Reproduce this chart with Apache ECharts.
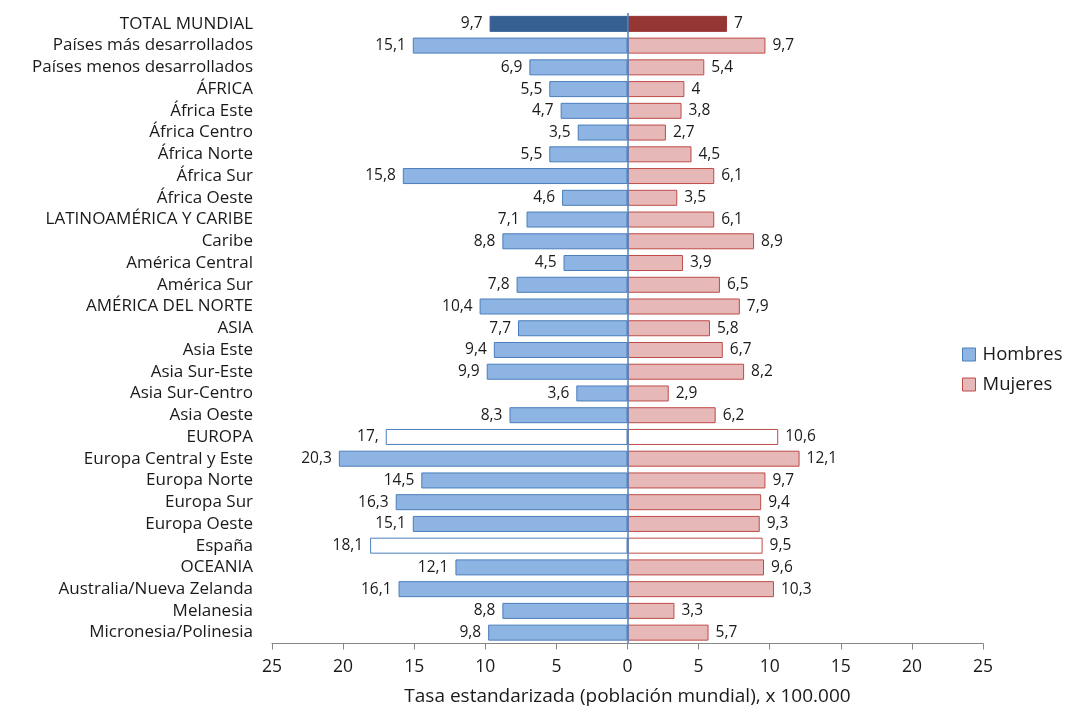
<!DOCTYPE html>
<html>
<head>
<meta charset="utf-8">
<script src="https://cdn.jsdelivr.net/npm/echarts@6/dist/echarts.min.js"></script>
<style>html,body{margin:0;padding:0;background:#fff}#c{width:1067px;height:713px}</style>
</head>
<body>
<div id="c"></div>
<script>
const categories = ["TOTAL MUNDIAL","Países más desarrollados","Países menos desarrollados","ÁFRICA","África Este","África Centro","África Norte","África Sur","África Oeste","LATINOAMÉRICA Y CARIBE","Caribe","América Central","América Sur","AMÉRICA DEL NORTE","ASIA","Asia Este","Asia Sur-Este","Asia Sur-Centro","Asia Oeste","EUROPA","Europa Central y Este","Europa Norte","Europa Sur","Europa Oeste","España","OCEANIA","Australia/Nueva Zelanda","Melanesia","Micronesia/Polinesia"];
const hombres = [9.7,15.1,6.9,5.5,4.7,3.5,5.5,15.8,4.6,7.1,8.8,4.5,7.8,10.4,7.7,9.4,9.9,3.6,8.3,17,20.3,14.5,16.3,15.1,18.1,12.1,16.1,8.8,9.8];
const mujeres = [7,9.7,5.4,4,3.8,2.7,4.5,6.1,3.5,6.1,8.9,3.9,6.5,7.9,5.8,6.7,8.2,2.9,6.2,10.6,12.1,9.7,9.4,9.3,9.5,9.6,10.3,3.3,5.7];
const hombresLabels = ["9,7","15,1","6,9","5,5","4,7","3,5","5,5","15,8","4,6","7,1","8,8","4,5","7,8","10,4","7,7","9,4","9,9","3,6","8,3","17,","20,3","14,5","16,3","15,1","18,1","12,1","16,1","8,8","9,8"];
const mujeresLabels = ["7","9,7","5,4","4","3,8","2,7","4,5","6,1","3,5","6,1","8,9","3,9","6,5","7,9","5,8","6,7","8,2","2,9","6,2","10,6","12,1","9,7","9,4","9,3","9,5","9,6","10,3","3,3","5,7"];
const xTicks = [-25,-20,-15,-10,-5,0,5,10,15,20,25];

const totalIdx = 0;
const hollowIdx = [19, 24];
const FONT = 'Open Sans';

function styleFor(i, fill, border, dark){
  if (i === totalIdx) return {color: dark, borderColor: dark, borderWidth: 1};
  if (hollowIdx.indexOf(i) >= 0) return {color: '#ffffff', borderColor: border, borderWidth: 1};
  return {color: fill, borderColor: border, borderWidth: 1};
}
const hData = hombres.map((v,i)=>({value:-v, itemStyle: styleFor(i,'#8EB4E3','#4A7EBB','#376092')}));
const mData = mujeres.map((v,i)=>({value:v, itemStyle: styleFor(i,'#E6B9B8','#BE4B48','#963634')}));

const chart = echarts.init(document.getElementById('c'), null, {renderer:'canvas'});
chart.setOption({
  animation:false,
  textStyle:{fontFamily:FONT},
  grid:{left:272, right:84, top:13, bottom:69.5, containLabel:false},
  legend:{
    orient:'vertical', left:957, top:340, itemWidth:13, itemHeight:13, itemGap:11, icon:'rect',
    textStyle:{fontSize:18.5, color:'#1a1a1a', fontFamily:FONT, padding:[0,0,0,2]},
    data:[{name:'Hombres', itemStyle:{color:'#8EB4E3', borderColor:'#4A7EBB', borderWidth:1}},
          {name:'Mujeres', itemStyle:{color:'#E6B9B8', borderColor:'#BE4B48', borderWidth:1}}]
  },
  xAxis:{
    type:'value', min:-25, max:25, interval:5,
    axisLine:{show:true, onZero:false, lineStyle:{color:'#868686', width:1}},
    axisTick:{show:true, length:6, lineStyle:{color:'#868686'}},
    splitLine:{show:false},
    axisLabel:{fontSize:17.5, color:'#1a1a1a', margin:15, fontFamily:FONT,
      formatter:(v)=> xTicks.indexOf(v)>=0 ? String(Math.abs(v)) : ''},
    name:'Tasa estandarizada (población mundial), x 100.000',
    nameLocation:'middle', nameGap:44,
    nameTextStyle:{fontSize:19, color:'#1a1a1a', fontFamily:FONT}
  },
  yAxis:{
    type:'category', data:categories, inverse:true,
    axisLine:{show:false}, axisTick:{show:false},
    axisLabel:{interval:0, fontSize:17, lineHeight:20, color:'#1a1a1a', margin:19, fontFamily:FONT, hideOverlap:false}
  },
  series:[
    {name:'Hombres', type:'bar', data:hData, barWidth:16, barGap:'-100%',
     label:{show:true, position:'left', distance:7, fontSize:15.5, color:'#1a1a1a', fontFamily:FONT,
       formatter:(p)=>hombresLabels[p.dataIndex]},
     markLine:{silent:true, symbol:'none', label:{show:false},
       lineStyle:{color:'#4A7EBB', width:1.5, type:'solid'}, data:[{xAxis:0}]}
    },
    {name:'Mujeres', type:'bar', data:mData, barWidth:16, barGap:'-100%',
     label:{show:true, position:'right', distance:7, fontSize:15.5, color:'#1a1a1a', fontFamily:FONT,
       formatter:(p)=>mujeresLabels[p.dataIndex]}
    }
  ]
});
</script>
</body>
</html>
